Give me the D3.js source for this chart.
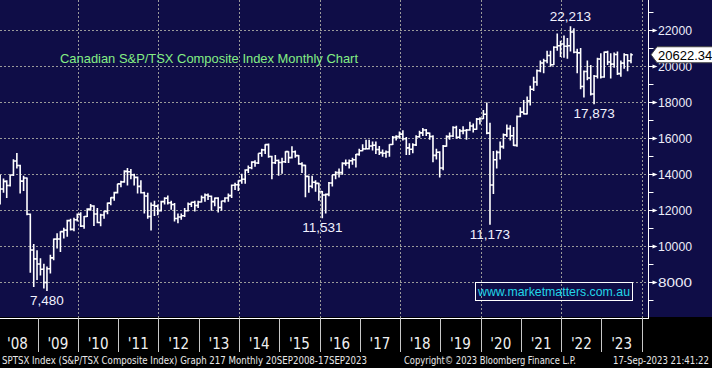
<!DOCTYPE html>
<html>
<head>
<meta charset="utf-8">
<script src="https://cdn.jsdelivr.net/npm/d3@7"></script>
<style>
  body { margin: 0; background: #000; }
  svg { display: block; }
</style>
</head>
<body>
<svg></svg>
<script>
// monthly bars, [open, high, low, close], Jan..Dec
const ohlc2008 = [[13833,13950,12300,13155],[13155,13740,12950,13583],[13583,13640,12650,13350],[13350,13960,13300,13937],[13937,14810,13880,14715],[14715,15155,14300,14467],[14467,14500,12900,13593],[13593,13900,13050,13771],[13771,13800,11700,11753],[11753,11800,8500,9763],[9763,10100,7700,9271],[9271,9750,8100,8988]];
const ohlc2009 = [[8988,9300,8350,8695],[8695,9000,7620,7957],[7957,8850,7480,8720],[8720,9500,8450,9325],[9325,10400,9200,10370],[10370,10700,9850,10375],[10375,10800,9650,10787],[10787,11000,10400,10868],[10868,11450,10500,11395],[11395,11500,10850,10911],[10911,11560,10800,11447],[11447,11800,11350,11746]];
const ohlc2010 = [[11746,11870,11050,11094],[11094,11650,10950,11630],[11630,12080,11600,12038],[12038,12320,11950,12211],[12211,12250,11100,11763],[11763,12100,11250,11294],[11294,11780,11090,11713],[11713,11950,11500,11914],[11914,12400,11750,12369],[12369,12700,12250,12676],[12676,13000,12500,12953],[12953,13450,12900,13443]];
const ohlc2011 = [[13443,13620,13250,13552],[13552,14200,13500,14137],[14137,14330,13350,14116],[14116,14270,13700,13945],[13945,14000,13350,13803],[13803,13850,12900,13301],[13301,13650,12900,12946],[12946,13000,11800,12769],[12769,12950,11500,11624],[11624,12400,10850,12252],[12252,12500,11650,12204],[12204,12300,11700,11955]];
const ohlc2012 = [[11955,12500,11900,12452],[12452,12700,12300,12644],[12644,12800,12300,12392],[12392,12500,12000,12293],[12293,12380,11350,11513],[11513,11800,11250,11597],[11597,11800,11450,11665],[11665,12100,11600,11949],[11949,12400,11900,12317],[12317,12450,12150,12423],[12423,12500,11900,12239],[12239,12500,12100,12434]];
const ohlc2013 = [[12434,12800,12400,12685],[12685,12900,12450,12822],[12822,12900,12550,12750],[12750,12800,11950,12457],[12457,12680,12200,12650],[12650,12700,11850,12129],[12129,12500,11950,12487],[12487,12700,12400,12654],[12654,12900,12450,12787],[12787,13400,12650,13361],[13361,13500,13100,13395],[13395,13650,13050,13622]];
const ohlc2014 = [[13622,14000,13450,13695],[13695,14250,13450,14210],[14210,14470,14050,14335],[14335,14700,14250,14652],[14652,14750,14400,14604],[14604,15150,14550,15146],[15146,15400,14950,15331],[15331,15650,15100,15626],[15626,15690,14900,14961],[14961,15000,13700,14613],[14613,15050,14550,14745],[14745,14800,13900,14632]];
const ohlc2015 = [[14632,14900,14000,14674],[14674,15250,14600,15234],[15234,15250,14600,14902],[14902,15530,14850,15225],[15225,15300,14900,15014],[15014,15050,14500,14553],[14553,14650,14050,14468],[14468,14500,12700,13859],[13859,13900,12950,13307],[13307,13900,13200,13529],[13529,13650,13000,13470],[13470,13500,12500,13010]];
const ohlc2016 = [[13010,13050,11531,12822],[12822,12900,11800,12860],[12860,13550,12750,13494],[13494,13950,13300,13951],[13951,14150,13700,14066],[14066,14300,13800,14065],[14065,14650,13950,14583],[14583,14800,14450,14598],[14598,14800,14300,14726],[14726,14900,14500,14787],[14787,15100,14350,15083],[15083,15400,15000,15288]];
const ohlc2017 = [[15288,15650,15250,15386],[15386,15900,15350,15399],[15399,15900,15350,15548],[15548,15800,15300,15586],[15586,15800,15100,15350],[15350,15550,15050,15182],[15182,15350,14950,15144],[15144,15300,14900,15212],[15212,15650,14950,15635],[15635,16100,15600,16026],[16026,16150,15850,16067],[16067,16350,15950,16209]];
const ohlc2018 = [[16209,16420,15850,15952],[15952,16050,15050,15443],[15443,15700,15050,15367],[15367,15700,15150,15608],[15608,16150,15550,16062],[16062,16400,16000,16278],[16278,16550,16100,16434],[16434,16500,16100,16263],[16263,16300,15900,16073],[16073,16150,14650,15027],[15027,15400,14800,15198],[15198,15250,13800,14323]];
const ohlc2019 = [[14323,15600,14200,15541],[15541,16150,15500,16067],[16067,16300,15900,16102],[16102,16650,16050,16581],[16581,16680,15950,16037],[16037,16500,15950,16382],[16382,16650,16200,16407],[16407,16500,15900,16442],[16442,16900,16400,16659],[16659,16800,16300,16483],[16483,17100,16450,17040],[17040,17150,16750,17063]];
const ohlc2020 = [[17063,17550,17050,17318],[17318,17970,16200,16263],[16263,16840,11173,13379],[13379,15270,12880,14781],[14781,15300,14300,15193],[15193,15800,14800,15515],[15515,16250,15400,16169],[16169,16750,16050,16514],[16514,16700,15850,16121],[16121,16600,15550,15581],[15581,17250,15500,17190],[17190,17700,17150,17433]];
const ohlc2021 = [[17433,18100,17300,17337],[17337,18300,17300,18060],[18060,18900,17800,18701],[18701,19400,18600,19108],[19108,19800,18900,19731],[19731,20300,19650,20166],[20166,20400,19600,20288],[20288,20850,20150,20583],[20583,20850,19950,20070],[20070,21100,20050,21037],[21037,21800,20850,21126],[21126,21400,20500,21223]];
const ohlc2022 = [[21223,21700,20450,21098],[21098,21550,20400,21126],[21126,22213,20800,21890],[21890,22100,20700,20762],[20762,20950,19600,20729],[20729,21000,18700,18861],[18861,19750,18250,19693],[19693,20300,19200,19331],[19331,20050,18350,18444],[18444,19500,17873,19426],[19426,20450,19300,20385],[20385,20700,19300,19385]];
const ohlc2023 = [[19385,20800,19350,20767],[20767,20850,20050,20221],[20221,20700,19300,20100],[20100,20750,19900,20636],[20636,20800,19500,19572],[19572,20300,19400,20155],[20155,20700,19850,20627],[20627,20650,19700,20293],[20293,20700,20150,20622]];

const years = ['\'08','\'09','\'10','\'11','\'12','\'13','\'14','\'15','\'16','\'17','\'18','\'19','\'20','\'21','\'22','\'23'];
const yTicks = [8000, 10000, 12000, 14000, 16000, 18000, 20000, 22000];
const lastPrice = 20622.34;
const notes = [
    {text: '22,213', year: 2022, month: 2, value: 22213, where: 'above'},
    {text: '17,873', year: 2022, month: 9, value: 17873, where: 'below'},
    {text: '11,173', year: 2020, month: 2, value: 11173, where: 'below'},
    {text: '11,531', year: 2016, month: 0, value: 11531, where: 'below'},
    {text: '7,480', year: 2009, month: 2, value: 7480, where: 'below'}
];

const W = 712, H = 368;
const plotBottom = 318, axisX = 648.5;
const svg = d3.select('svg').attr('width', W).attr('height', H);

const allYears = [ohlc2008, ohlc2009, ohlc2010, ohlc2011, ohlc2012, ohlc2013, ohlc2014, ohlc2015,
    ohlc2016, ohlc2017, ohlc2018, ohlc2019, ohlc2020, ohlc2021, ohlc2022, ohlc2023];
const bars = [];
allYears.forEach((rows, i) => {
    rows.forEach((r, m) => {
        bars.push({date: new Date(2008 + i, m, 26), o: r[0], h: r[1], l: r[2], c: r[3]});
    });
});

const x = d3.scaleTime()
    .domain([new Date(2009, 0, 1), new Date(2024, 0, 1)])
    .range([37.7, 641.7]);
const y = d3.scaleLinear().domain([5982, 23668]).range([plotBottom, 0]);

// background
svg.append('rect').attr('width', W).attr('height', H).attr('fill', '#000');
svg.append('rect').attr('width', W).attr('height', 317).attr('fill', '#0f0d47');

// grid
const grid = svg.append('g').attr('stroke', '#9a9a9a').attr('stroke-dasharray', '2,2').attr('stroke-width', 1);
grid.selectAll('line.h').data(yTicks).enter().append('line')
    .attr('x1', 0).attr('x2', axisX)
    .attr('y1', d => Math.round(y(d)) + 0.5).attr('y2', d => Math.round(y(d)) + 0.5);
const gridYears = d3.range(2010, 2025, 2).map(v => new Date(v, 0, 1));
grid.selectAll('line.v').data(gridYears).enter().append('line')
    .attr('x1', d => Math.round(x(d)) + 0.5).attr('x2', d => Math.round(x(d)) + 0.5)
    .attr('y1', 0).attr('y2', plotBottom);

// title
svg.append('text')
    .attr('x', 60).attr('y', 63)
    .attr('font-family', 'Liberation Sans, Arial, sans-serif')
    .attr('font-size', '13.5px')
    .attr('fill', '#84ee84')
    .attr('textLength', 298).attr('lengthAdjust', 'spacingAndGlyphs')
    .text('Canadian S&P/TSX Composite Index Monthly Chart');

// watermark
svg.append('rect')
    .attr('x', 475.5).attr('y', 282.5).attr('width', 157).attr('height', 18)
    .attr('fill', 'none').attr('stroke', '#ffffff').attr('stroke-width', 1);
svg.append('text')
    .attr('x', 554).attr('y', 296)
    .attr('text-anchor', 'middle')
    .attr('font-family', 'Liberation Sans, Arial, sans-serif')
    .attr('font-size', '13px')
    .attr('fill', '#22d6e8')
    .attr('textLength', 152).attr('lengthAdjust', 'spacingAndGlyphs')
    .text('www.marketmatters.com.au');

// ohlc bars
const tick = 1.8;
svg.append('g')
    .attr('fill', 'none').attr('stroke', '#ffffff').attr('stroke-width', 1.6)
    .selectAll('path')
    .data(bars)
    .enter()
    .append('path')
    .attr('d', d => {
        const cx = x(d.date);
        return `M${cx},${y(d.h)}V${y(d.l)}` +
            `M${cx - tick},${y(d.o)}H${cx}` +
            `M${cx},${y(d.c)}H${cx + tick}`;
    });

// annotations
svg.append('g')
    .selectAll('text')
    .data(notes)
    .enter()
    .append('text')
    .attr('x', d => x(new Date(d.year, d.month, 26)))
    .attr('y', d => d.where === 'above' ? y(d.value) - 5 : y(d.value) + 14)
    .attr('text-anchor', 'middle')
    .attr('font-family', 'Liberation Sans, Arial, sans-serif')
    .attr('font-size', '13.5px')
    .attr('fill', '#f2f2ff')
    .text(d => d.text);

// x axis
svg.append('line')
    .attr('x1', 0).attr('x2', axisX).attr('y1', plotBottom + 0.5).attr('y2', plotBottom + 0.5)
    .attr('stroke', '#ffffff').attr('stroke-width', 1);
const yearStarts = d3.range(2009, 2025).map(v => new Date(v, 0, 1));
svg.append('g')
    .selectAll('line')
    .data(yearStarts)
    .enter()
    .append('line')
    .attr('x1', d => Math.round(x(d)) + 0.5).attr('x2', d => Math.round(x(d)) + 0.5)
    .attr('y1', plotBottom).attr('y2', 352)
    .attr('stroke', '#c8c8c8').attr('stroke-width', 1);
svg.append('g')
    .selectAll('text')
    .data(years)
    .enter()
    .append('text')
    .attr('x', (d, i) => (x(new Date(2008 + i, 0, 1)) + x(new Date(2009 + i, 0, 1))) / 2)
    .attr('y', 349)
    .attr('text-anchor', 'middle')
    .attr('font-family', 'Liberation Sans Narrow, DejaVu Sans Condensed, sans-serif')
    .attr('font-size', '15px')
    .attr('fill', '#f0f0f0')
    .text(d => d);

// y axis
svg.append('line')
    .attr('x1', axisX).attr('x2', axisX).attr('y1', 0).attr('y2', plotBottom + 1)
    .attr('stroke', '#ffffff').attr('stroke-width', 1);
const minor = d3.range(7000, 24000, 2000);
svg.append('g')
    .selectAll('line')
    .data(minor)
    .enter()
    .append('line')
    .attr('x1', axisX).attr('x2', axisX + 5)
    .attr('y1', d => Math.round(y(d)) + 0.5).attr('y2', d => Math.round(y(d)) + 0.5)
    .attr('stroke', '#ffffff').attr('stroke-width', 1);
svg.append('g')
    .selectAll('path')
    .data(yTicks)
    .enter()
    .append('path')
    .attr('d', d => {
        const ty = Math.round(y(d)) + 0.5;
        return `M${axisX},${ty - 0.5}H${axisX + 4}L${axisX + 4},${ty - 2}L${axisX + 9},${ty}L${axisX + 4},${ty + 2}L${axisX + 4},${ty + 0.5}H${axisX}Z`;
    })
    .attr('fill', '#ffffff');
svg.append('g')
    .selectAll('text')
    .data(yTicks)
    .enter()
    .append('text')
    .attr('x', 658)
    .attr('y', d => y(d) + 5)
    .attr('font-family', 'Liberation Sans, Arial, sans-serif')
    .attr('font-size', '13px')
    .attr('fill', '#eeeefa')
    .attr('textLength', 34).attr('lengthAdjust', 'spacingAndGlyphs')
    .text(d => d);

// last price tag
const ly = y(lastPrice);
svg.append('path')
    .attr('d', `M651,${ly}L657,${ly - 8}H713V${ly + 8}H657Z`)
    .attr('fill', '#ffffff').attr('stroke', '#444').attr('stroke-width', 1);
svg.append('text')
    .attr('x', 658).attr('y', ly + 5)
    .attr('font-family', 'Liberation Sans, Arial, sans-serif')
    .attr('font-size', '13px')
    .attr('fill', '#000000')
    .text(d3.format('.2f')(lastPrice));

// footer
const footer = svg.append('g')
    .attr('font-family', 'Liberation Sans Narrow, DejaVu Sans Condensed, sans-serif')
    .attr('font-size', '10.5px')
    .attr('fill', '#e8e8e8');
footer.append('text').attr('x', 2).attr('y', 364)
    .attr('textLength', 365).attr('lengthAdjust', 'spacingAndGlyphs')
    .text('SPTSX Index (S&P/TSX Composite Index) Graph 217  Monthly 20SEP2008-17SEP2023');
footer.append('text').attr('x', 404).attr('y', 364)
    .attr('textLength', 172).attr('lengthAdjust', 'spacingAndGlyphs')
    .text('Copyright\u00a9 2023 Bloomberg Finance L.P.');
footer.append('text').attr('x', 613).attr('y', 364)
    .attr('textLength', 96).attr('lengthAdjust', 'spacingAndGlyphs')
    .text('17-Sep-2023 21:41:22');
</script>
</body>
</html>
